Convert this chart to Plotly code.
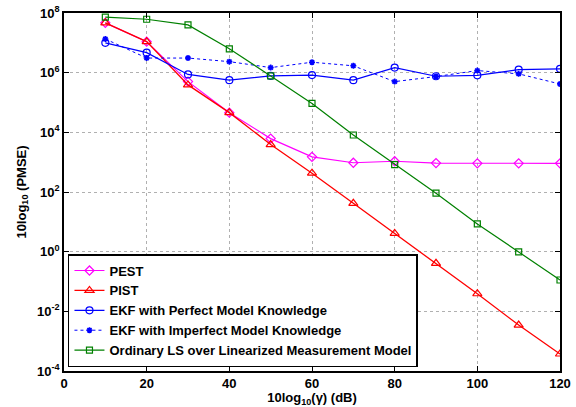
import plotly.graph_objects as go

snr_db = [10, 20, 30, 40, 50, 60, 70, 80, 90, 100, 110, 120]

# log10(PMSE) values
pest_log = [7.67, 7.04, 5.70, 4.66, 3.79, 3.18, 2.98, 3.03, 2.97, 2.96, 2.96, 2.96]
pist_log = [7.67, 7.04, 5.59, 4.66, 3.59, 2.63, 1.62, 0.61, -0.39, -1.41, -2.46, -3.43]
ekf_perfect_log = [7.00, 6.67, 5.94, 5.75, 5.89, 5.92, 5.75, 6.17, 5.88, 5.91, 6.10, 6.13]
ekf_imperfect_log = [7.13, 6.49, 6.49, 6.37, 6.17, 6.35, 6.23, 5.70, 5.87, 6.07, 5.96, 5.62]
ls_log = [7.86, 7.79, 7.60, 6.80, 5.89, 4.97, 3.91, 2.92, 1.96, 0.93, -0.01, -0.95]

names = [
    "PEST",
    "PIST",
    "EKF with Perfect Model Knowledge",
    "EKF with Imperfect Model Knowledge",
    "Ordinary LS over Linearized Measurement Model",
]

y_tick_exps = [-4, -2, 0, 2, 4, 6, 8]
x_ticks = [0, 20, 40, 60, 80, 100, 120]

def to_lin(vals):
    return [10 ** v for v in vals]

fig = go.Figure()

series = [
    (pest_log, "#FF00FF", "diamond-open", "solid", 7, 1.2),
    (pist_log, "#FF0000", "triangle-up-open", "solid", 8, 1.3),
    (ekf_perfect_log, "#0000FF", "circle-open", "solid", 7, 1.2),
    (ekf_imperfect_log, "#0000FF", "asterisk-open", "dot", 5, 1.0),
    (ls_log, "#008000", "square-open", "solid", 6, 1.2),
]

for (vals, color, sym, dash, ms, lw), name in zip(series, names):
    fig.add_trace(go.Scatter(
        x=snr_db, y=to_lin(vals), name=name, mode="lines+markers",
        line=dict(color=color, width=lw, dash=dash),
        marker=dict(symbol=sym, size=ms, color=color,
                    line=dict(color=color, width=1.6 if sym.startswith("asterisk") else 1.2)),
    ))

axis_common = dict(
    showline=True, linecolor="black", linewidth=1.5, mirror="ticks",
    ticks="inside", ticklen=5, tickcolor="black",
    showgrid=True, gridcolor="#b0b0b0", griddash="dot", gridwidth=1,
    zeroline=False, automargin=False, ticklabeloverflow="allow",
    tickfont=dict(family="Liberation Sans", size=13, color="black", weight="bold"),
)

fig.update_xaxes(
    range=[0, 120], tickvals=x_ticks, ticktext=[str(t) for t in x_ticks],
    title=dict(text="10log<sub>10</sub>(γ) (dB)", standoff=4,
               font=dict(family="Liberation Sans", size=13, color="black", weight="bold")),
    **axis_common,
)
fig.update_yaxes(
    type="log", range=[-4, 8],
    tickvals=[10 ** e for e in y_tick_exps],
    ticktext=[f"10<sup>{e}</sup>" for e in y_tick_exps],
    title=dict(text="10log<sub>10</sub> (PMSE)", standoff=8,
               font=dict(family="Liberation Sans", size=13, color="black", weight="bold")),
    **axis_common,
)

fig.update_layout(
    width=576, height=407,
    margin=dict(l=64, r=16, t=13, b=36),
    paper_bgcolor="white", plot_bgcolor="white",
    font=dict(family="Liberation Sans", color="black"),
    legend=dict(
        x=0.008, y=0.011, xanchor="left", yanchor="bottom",
        bgcolor="white", bordercolor="black", borderwidth=1.5,
        font=dict(family="Liberation Sans", size=13, color="black", weight="bold"),
        itemwidth=30, tracegroupgap=0,
    ),
)

# remove the browser's default 8 px page margin so the figure fills the window
fig.write_html("out.html", config={"displayModeBar": False},
               post_script="document.body.style.margin='0px';")
